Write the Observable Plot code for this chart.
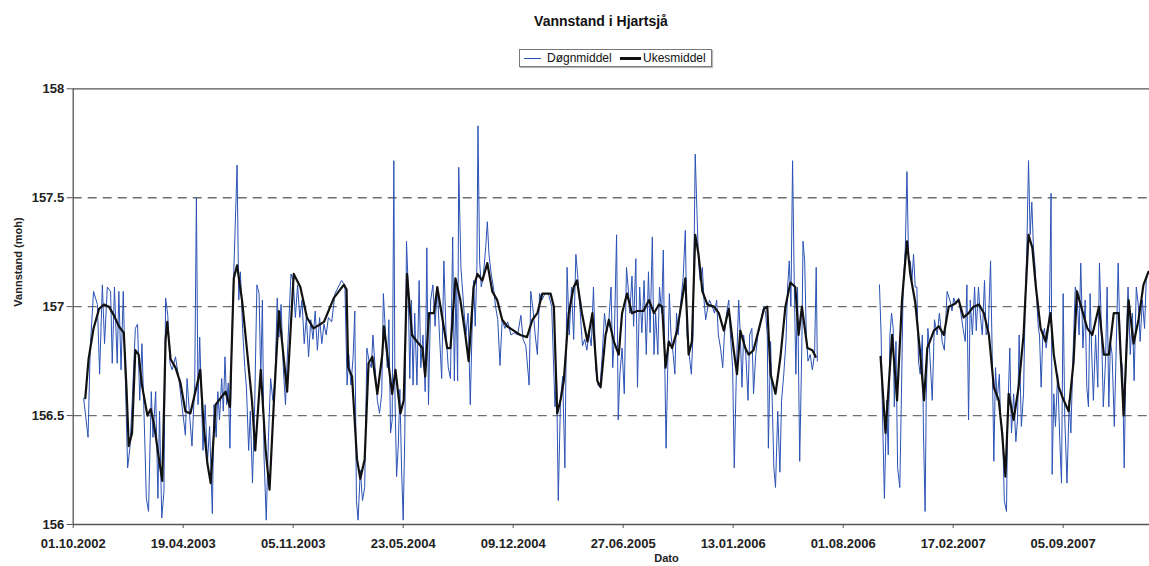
<!DOCTYPE html>
<html><head><meta charset="utf-8">
<script src="https://cdn.jsdelivr.net/npm/d3@7"></script>
<script src="https://cdn.jsdelivr.net/npm/@observablehq/plot@0.6"></script>
<style>
body{margin:0;background:#fff;font-family:"Liberation Sans",Arial,sans-serif;color:#111;}
#wrap{position:relative;width:1149px;height:566px;overflow:hidden;}
#head{position:relative;height:80px;}
#title{position:absolute;left:0;width:1202px;top:13px;text-align:center;font-weight:bold;font-size:14px;}
#legend{position:absolute;left:519px;top:49px;width:191px;height:16px;border:1.5px solid #777;box-shadow:1px 1px 1px #bbb;font-size:12px;}
#legend .sw{position:absolute;top:8px;}
#legend .t{position:absolute;top:1px;}
</style></head>
<body><div id="wrap">
<div id="head">
<div id="title">Vannstand i Hjartsjå</div>
<div id="legend">
<span class="sw" style="left:4px;width:17px;border-top:1px solid #2b52b5"></span>
<span class="t" style="left:27px">Døgnmiddel</span>
<span class="sw" style="left:100px;top:7px;width:21px;border-top:3px solid #111"></span>
<span class="t" style="left:123px">Ukesmiddel</span>
</div>
</div>
<div id="chart"></div>
</div>
<script>
const startDato = "2002-10-01";
const sluttDag = 1957;
const tickEtiketter = ["01.10.2002","19.04.2003","05.11.2003","23.05.2004","09.12.2004","27.06.2005","13.01.2006","01.08.2006","17.02.2007","05.09.2007"];
const yTicks = [156, 156.5, 157, 157.5, 158];
const gridVerdier = [156.5, 157, 157.5];

// Døgnmiddel: day number since startDato, value (moh)
const dognDag = [
19,27,31,37,44,48,53,57,62,68,
71,75,80,83,87,91,96,99,103,107,
113,117,121,125,130,133,137,142,145,150,
154,157,161,165,168,172,176,180,186,192,
198,204,207,212,216,221,224,227,230,233,
236,240,244,248,253,256,260,263,266,270,
273,276,279,282,285,288,292,298,301,304,
308,312,315,319,322,326,330,334,338,341,
344,347,351,355,359,363,367,371,374,378,
382,386,389,393,396,400,404,408,412,416,
420,424,428,432,436,440,444,448,452,456,
460,464,470,476,482,488,494,498,501,505,
509,512,515,518,522,526,530,534,538,542,
545,549,553,557,561,564,568,571,574,577,
580,583,585,588,591,594,597,600,603,606,
609,612,615,618,621,625,629,632,636,640,
643,646,650,654,658,662,666,670,674,678,
682,686,690,693,696,699,701,705,710,714,
718,722,725,728,731,734,736,739,742,746,
750,753,756,760,764,768,772,776,780,785,
790,796,802,808,814,818,823,829,832,836,
840,844,848,852,858,864,870,876,879,882,
886,890,894,898,902,906,910,914,918,922,
926,930,934,938,942,946,950,954,958,962,
966,970,974,978,981,984,988,991,994,998,
1002,1006,1009,1012,1016,1019,1023,1026,1030,1034,
1038,1042,1046,1049,1053,1056,1059,1063,1066,1070,
1073,1075,1078,1081,1084,1087,1091,1094,1097,1100,
1104,1109,1113,1116,1120,1124,1127,1131,1134,1137,
1140,1144,1147,1150,1154,1157,1162,1166,1170,1173,
1177,1181,1184,1188,1192,1195,1199,1202,1206,1210,
1213,1216,1219,1223,1227,1230,1234,1237,1241,1245,
1248,1253,1256,1259,1262,1264,1268,1271,1274,1277,
1281,1285,1288,1292,1296,1299,1302,1305,1308,1311,
1314,1317,1321,1325,1327,1330,1333,1336,1340,1344,
1348,1351,1353,1410,1466,1469,1471,1475,1479,1482,
1485,1488,1491,1493,1496,1499,1503,1506,1509,1513,
1516,1519,1522,1525,1528,1531,1534,1537,1540,1544,
1546,1549,1551,1554,1557,1562,1566,1571,1575,1580,
1584,1589,1594,1598,1601,1605,1610,1614,1618,1622,
1625,1628,1631,1635,1639,1642,1646,1649,1653,1657,
1660,1664,1668,1671,1674,1677,1680,1684,1686,1690,
1693,1697,1699,1703,1706,1710,1714,1717,1720,1724,
1728,1731,1734,1737,1740,1743,1746,1749,1752,1755,
1757,1760,1763,1766,1769,1772,1775,1778,1780,1783,
1786,1790,1794,1797,1800,1803,1807,1811,1814,1818,
1822,1825,1829,1832,1836,1840,1843,1846,1849,1852,
1855,1859,1863,1866,1870,1873,1877,1880,1883,1886,
1889,1893,1897,1900,1904,1908,1911,1915,1918,1922,
1926,1929,1933,1937,1940,1944,1948,1951,1955
];
const dognVerdi = [
156.58,156.40,156.81,157.07,157.01,156.69,157.10,156.83,157.09,157.07,
156.74,157.09,156.74,157.07,156.71,157.07,156.55,156.26,156.35,156.55,
156.90,156.92,156.57,156.83,156.40,156.12,156.06,156.61,156.40,156.61,
156.12,156.52,156.03,156.15,157.04,156.96,156.74,156.71,156.77,156.67,
156.54,156.41,156.67,156.49,156.36,156.65,157.50,156.55,156.86,156.60,
156.34,156.55,156.28,156.45,156.05,156.55,156.40,156.61,156.48,156.67,
156.52,156.77,156.55,156.65,156.35,156.80,157.16,157.65,157.03,157.16,
156.90,156.72,156.63,156.34,156.52,156.19,156.55,157.10,157.06,156.67,
157.03,156.31,156.02,156.40,156.67,156.57,156.67,157.04,156.86,157.01,
156.72,156.55,156.75,156.98,157.15,157.12,156.95,157.10,156.95,157.03,
156.83,156.95,156.77,156.94,156.85,156.98,156.80,156.95,156.83,156.92,
156.87,156.95,156.93,157.06,157.09,157.12,157.10,156.64,156.78,156.64,
156.77,156.98,156.11,156.02,156.25,156.11,156.17,156.81,156.75,156.72,
156.87,156.72,156.57,156.51,156.60,157.06,156.87,156.72,156.94,156.42,
156.48,157.67,156.60,156.22,156.36,156.62,156.26,156.02,156.42,157.30,
157.10,156.67,157.03,156.64,156.97,156.64,157.12,156.72,156.87,156.61,
157.27,156.55,157.03,157.10,156.91,157.09,156.87,156.67,157.21,156.87,
156.72,156.67,157.32,156.66,157.09,156.66,157.64,157.18,157.00,156.87,
156.97,156.55,156.87,157.12,156.91,157.18,157.83,157.21,157.09,157.15,
157.27,157.39,157.24,157.15,157.09,157.00,156.94,156.73,156.94,156.90,
156.93,156.87,156.88,156.87,156.96,156.85,156.82,156.64,157.07,156.99,
156.87,156.78,157.06,157.03,157.06,157.06,157.00,156.54,156.66,156.11,
156.57,156.68,156.26,157.18,156.87,157.09,156.85,157.24,157.12,156.97,
156.82,156.85,156.80,156.88,156.82,157.09,156.72,156.64,156.63,156.78,
156.97,156.88,156.94,157.09,156.72,156.87,157.33,156.48,156.69,156.81,
156.60,157.18,157.09,156.97,157.14,156.91,157.22,156.63,157.09,156.88,
157.12,156.78,157.16,156.88,157.32,156.78,156.97,156.78,157.09,156.97,
157.26,156.84,156.35,156.72,157.06,156.87,156.78,156.69,156.97,156.87,
157.00,157.13,157.35,156.87,156.78,156.69,156.87,157.70,157.45,157.21,
157.12,157.18,157.03,156.94,157.00,157.03,157.00,156.97,157.03,156.87,
156.81,156.72,156.87,156.97,157.03,156.87,156.72,156.26,156.72,157.03,
156.87,156.63,156.87,156.78,156.57,156.87,156.90,156.60,156.78,156.87,
156.90,156.97,157.00,156.97,156.87,156.35,156.84,156.57,156.26,156.17,
156.52,156.24,156.57,156.69,156.84,157.09,157.21,157.00,157.67,157.12,
156.69,157.09,156.29,156.84,157.30,157.21,156.87,156.75,156.78,156.71,
156.78,157.18,156.75,null,157.10,156.87,156.57,156.12,156.57,156.32,
156.87,156.97,156.90,156.54,156.84,156.26,156.17,156.60,157.09,157.27,
157.62,157.21,157.21,157.12,157.24,157.09,157.09,156.75,156.69,156.87,
156.42,156.06,156.57,156.90,156.81,156.57,156.94,156.87,156.97,156.84,
156.80,157.07,157.03,156.98,157.04,157.01,157.04,156.97,156.90,156.84,
157.10,156.48,157.03,156.87,157.09,156.89,157.09,156.97,156.87,157.12,
156.87,156.90,157.21,156.78,156.29,156.72,156.57,156.69,156.49,156.42,
156.11,156.06,156.48,156.81,156.42,156.60,156.38,156.48,156.87,156.45,
156.60,157.03,157.27,157.67,157.33,157.48,157.27,157.18,157.03,156.90,
156.87,156.63,156.87,156.90,156.81,156.87,156.97,157.52,156.23,156.60,
156.45,156.69,156.38,156.19,157.06,156.48,156.19,156.57,156.42,156.78,
157.09,157.06,156.87,157.20,156.81,157.03,156.63,156.54,157.06,156.78,
156.57,156.87,156.63,157.20,156.87,156.54,156.75,157.09,156.54,156.84,
156.78,156.45,156.87,157.20,156.78,156.72,156.26,156.87,157.09,156.78,
156.97,156.66,157.09,157.00,156.84,157.03,156.90,157.12,157.16
];

// Ukesmiddel
const ukeDag = [
22,28,37,47,56,65,74,83,92,97,
101,107,113,119,125,135,141,147,156,162,
168,171,177,186,195,204,213,225,231,237,
244,250,259,268,277,285,292,298,307,316,
325,331,341,350,357,365,374,389,401,413,
425,437,456,474,492,497,500,507,516,522,
530,537,544,553,562,565,574,580,586,595,
601,607,616,625,635,640,647,656,662,671,
680,686,695,704,713,719,728,735,744,753,
762,771,780,789,801,813,825,835,844,853,
868,874,880,886,892,901,910,916,925,935,
944,953,959,968,974,983,992,998,1007,1016,
1025,1037,1047,1056,1065,1071,1077,1083,1089,1098,
1107,1113,1119,1125,1131,1137,1144,1153,1165,1174,
1183,1192,1201,1207,1213,1222,1228,1237,1247,1256,
1262,1268,1277,1286,1295,1304,1313,1319,1325,1335,
1344,1350,1410,1468,1477,1489,1498,1507,1516,1522,
1531,1541,1547,1553,1565,1574,1583,1592,1601,1610,
1619,1628,1637,1647,1656,1665,1674,1683,1689,1695,
1701,1710,1719,1728,1737,1744,1750,1759,1768,1777,
1783,1792,1801,1810,1819,1825,1835,1844,1853,1865,
1874,1883,1892,1901,1910,1919,1928,1937,1946,1955
];
const ukeVerdi = [
156.58,156.76,156.90,156.99,157.01,157.00,156.96,156.91,156.88,156.62,
156.36,156.42,156.80,156.78,156.64,156.50,156.53,156.46,156.30,156.20,
156.85,156.93,156.76,156.72,156.65,156.52,156.51,156.64,156.71,156.46,
156.28,156.19,156.55,156.58,156.61,156.54,157.13,157.19,157.03,156.80,
156.57,156.34,156.71,156.34,156.16,156.57,156.98,156.61,157.15,157.09,
156.95,156.90,156.93,157.04,157.10,157.08,156.72,156.68,156.30,156.21,
156.30,156.74,156.77,156.60,156.78,156.91,156.72,156.60,156.71,156.51,
156.57,157.15,156.87,156.84,156.81,156.68,156.97,156.97,157.09,156.95,
156.81,156.81,157.13,157.03,156.87,156.75,157.09,157.15,157.12,157.20,
157.07,157.03,156.94,156.91,156.89,156.87,156.86,156.94,156.97,157.06,
157.06,157.00,156.51,156.57,156.66,156.97,157.09,157.12,156.97,156.84,
156.97,156.66,156.63,156.87,156.94,156.84,156.78,156.97,157.06,156.97,
156.98,156.98,157.03,156.97,157.01,157.00,156.72,156.84,156.81,156.89,
157.03,157.13,156.78,156.84,157.33,157.24,157.07,157.01,157.00,156.97,
156.89,156.99,156.80,156.69,156.89,156.81,156.78,156.80,156.90,156.99,
157.00,156.69,156.60,156.77,157.00,157.11,157.09,156.87,157.00,156.81,
156.80,156.77,null,156.77,156.42,156.87,156.57,157.03,157.30,157.15,
157.02,156.76,156.57,156.81,156.89,156.91,156.87,157.00,157.01,157.03,
156.95,156.97,157.00,157.01,156.97,156.87,156.63,156.57,156.42,156.22,
156.60,156.48,156.63,156.87,157.33,157.27,157.10,156.90,156.84,156.97,
156.78,156.63,156.57,156.52,156.75,157.07,156.98,156.90,156.87,157.00,
156.78,156.78,156.97,156.97,156.50,157.03,156.83,156.94,157.10,157.16
];

const DAG = 864e5;
const t0 = Date.parse(startDato + "T00:00:00Z");
const tilDato = d => new Date(t0 + d * DAG);
const dogn = dognDag.map((d, i) => ({dato: tilDato(d), verdi: dognVerdi[i]}));
const uke = ukeDag.map((d, i) => ({dato: tilDato(d), verdi: ukeVerdi[i]}));
const tickDatoer = tickEtiketter.map(s => { const [dd, mm, yy] = s.split("."); return new Date(Date.UTC(+yy, +mm - 1, +dd)); });
const fmt = d3.utcFormat("%d.%m.%Y");

const chart = Plot.plot({
  width: 1149,
  height: 486,
  marginTop: 8.3,
  marginBottom: 42,
  marginLeft: 72.7,
  marginRight: 0,
  style: {fontFamily: "'Liberation Sans', Arial, sans-serif", fontSize: "13px", fontWeight: "bold", color: "#222", background: "#fff"},
  x: {type: "utc", domain: [tilDato(0), tilDato(sluttDag)]},
  y: {domain: [156, 158]},
  marks: [
    Plot.ruleY(gridVerdier, {stroke: "#6e6e6e", strokeWidth: 1.4, strokeDasharray: "9,6"}),
    Plot.ruleY([156, 158], {stroke: "#555", strokeWidth: 1.3}),
    Plot.ruleX([tilDato(0)], {stroke: "#555", strokeWidth: 1.3}),
    Plot.line(dogn, {x: "dato", y: "verdi", stroke: "#2b52b5", strokeWidth: 1}),
    Plot.line(uke, {x: "dato", y: "verdi", stroke: "#111", strokeWidth: 2.2}),
    Plot.axisX({ticks: tickDatoer, tickFormat: d => fmt(d), tickSize: 4, tickPadding: 10, label: null, stroke: "#555"}),
    Plot.axisY({ticks: yTicks, tickFormat: d => String(d), tickSize: 6, tickPadding: 3, label: null, stroke: "#555"}),
    Plot.text(["Vannstand (moh)"], {text: d => d, frameAnchor: "left", dx: -55, rotate: -90, fontSize: 11, fontWeight: "bold"}),
    Plot.text(["Dato"], {text: d => d, frameAnchor: "bottom-left", dx: 581, dy: 30, lineAnchor: "top", fontSize: 11, fontWeight: "bold"})
  ]
});
document.getElementById("chart").appendChild(chart);
</script>
</body></html>
